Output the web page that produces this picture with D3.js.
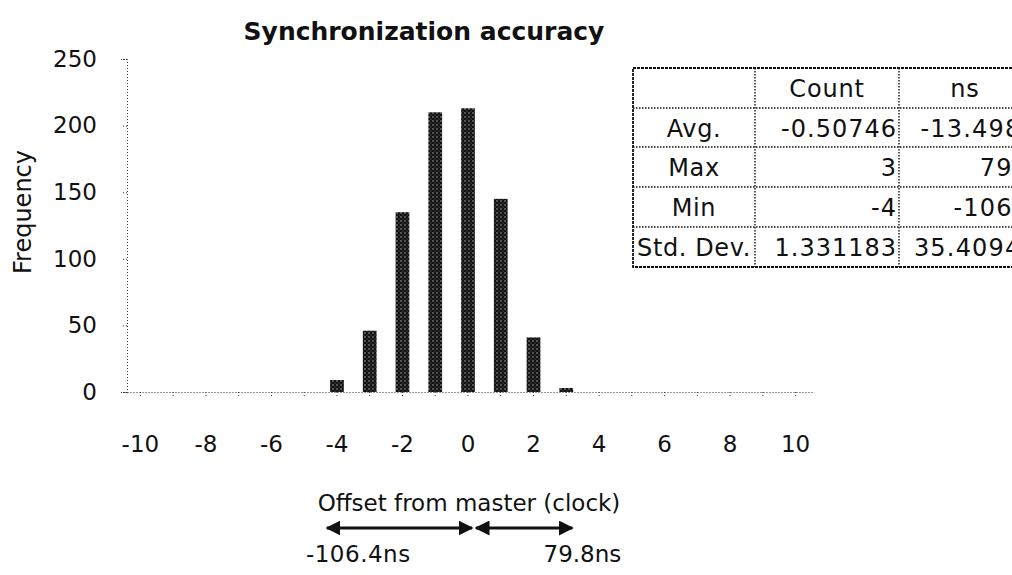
<!DOCTYPE html>
<html>
<head>
<meta charset="utf-8">
<script src="https://cdn.jsdelivr.net/npm/d3@7"></script>
<style>
  body { margin: 0; background: #fff; }
  text { font-family: "DejaVu Sans", Verdana, sans-serif; fill: #111; }
</style>
</head>
<body>
<div id="chart"></div>
<script>
// histogram data (offset in clocks -> frequency)
let offsets = d3.range(-10, 11);
let freqs = [0, 0, 0, 0, 0, 0, 9, 46, 135, 210, 213, 145, 41, 3, 0, 0, 0, 0, 0, 0, 0];
let xTicks = [-10, -8, -6, -4, -2, 0, 2, 4, 6, 8, 10];
let yTicks = [0, 50, 100, 150, 200, 250];

// stats table
let statCols = ["", "Count", "ns"];
let statRows = ["Avg.", "Max", "Min", "Std. Dev."];
let statCount = ["-0.50746", "3", "-4", "1.331183"];
let statNs = ["-13.4984", "79.8", "-106.4", "35.40947"];

// range annotation
let rangeClock = [-4, 3];
let rangeNs = ["-106.4ns", "79.8ns"];

let width = 1012;
let height = 575;

let svg = d3.select("#chart")
  .append("svg")
  .attr("width", width)
  .attr("height", height);

// stipple pattern for the bars
let defs = svg.append("defs");
let pat = defs.append("pattern")
  .attr("id", "stip")
  .attr("width", 4)
  .attr("height", 4)
  .attr("patternUnits", "userSpaceOnUse");
pat.append("rect").attr("width", 4).attr("height", 4).attr("fill", "#111");
pat.append("circle").attr("cx", 1).attr("cy", 1).attr("r", 0.7).attr("fill", "#ccc");
pat.append("circle").attr("cx", 3).attr("cy", 3).attr("r", 0.5).attr("fill", "#888");

// scales
let x = d3.scaleBand()
  .domain(offsets)
  .range([124, 812])
  .paddingInner(0.58)
  .paddingOuter(0.29);
let xc = v => x(v) + x.bandwidth() / 2;

let y = d3.scaleLinear()
  .domain([0, 250])
  .range([392, 59]);

// y axis
let yAxis = svg.append("g")
  .attr("transform", "translate(127,0)")
  .call(d3.axisLeft(y).tickValues(yTicks).tickSize(6).tickPadding(24));
yAxis.selectAll("path, line").attr("stroke", "#333").attr("stroke-dasharray", "1,2");
yAxis.selectAll("text").attr("font-size", 23);

// x axis
let xAxis = svg.append("g")
  .attr("transform", "translate(0,392)")
  .call(d3.axisBottom(x).tickSize(6).tickPadding(38).tickSizeOuter(0));
xAxis.select(".domain").attr("stroke", "#333").attr("stroke-dasharray", "1,2");
xAxis.selectAll("line").attr("stroke", "#333").attr("stroke-dasharray", "1,2");
xAxis.selectAll("text")
  .attr("font-size", 23)
  .text(d => xTicks.includes(d) ? String(d) : "");

// bars
svg.selectAll(".bar")
  .data(offsets.map((o, i) => ({ o: o, f: freqs[i] })))
  .enter()
  .append("rect")
  .attr("class", "bar")
  .attr("x", d => x(d.o))
  .attr("y", d => y(d.f))
  .attr("width", x.bandwidth())
  .attr("height", d => y(0) - y(d.f))
  .attr("fill", "url(#stip)");

// title
svg.append("text")
  .attr("x", 424)
  .attr("y", 40)
  .attr("text-anchor", "middle")
  .attr("font-size", 25)
  .attr("font-weight", "bold")
  .text("Synchronization accuracy");

// y label
svg.append("text")
  .attr("transform", "translate(31,212) rotate(-90)")
  .attr("text-anchor", "middle")
  .attr("font-size", 24)
  .text("Frequency");

// x label
svg.append("text")
  .attr("x", 469)
  .attr("y", 511)
  .attr("text-anchor", "middle")
  .attr("font-size", 23)
  .text("Offset from master (clock)");

// range arrows
defs.append("marker")
  .attr("id", "ah")
  .attr("viewBox", "0 0 10 10")
  .attr("refX", 9)
  .attr("refY", 5)
  .attr("markerWidth", 5)
  .attr("markerHeight", 5)
  .attr("orient", "auto-start-reverse")
  .append("path")
  .attr("d", "M0,0 L10,5 L0,10 z")
  .attr("fill", "#111");

let arrowY = 528;
svg.append("line")
  .attr("x1", xc(rangeClock[0]) - 10).attr("x2", xc(0) + 4)
  .attr("y1", arrowY).attr("y2", arrowY)
  .attr("stroke", "#111").attr("stroke-width", 3)
  .attr("marker-start", "url(#ah)").attr("marker-end", "url(#ah)");
svg.append("line")
  .attr("x1", xc(0) + 8).attr("x2", xc(rangeClock[1]) + 6)
  .attr("y1", arrowY).attr("y2", arrowY)
  .attr("stroke", "#111").attr("stroke-width", 3)
  .attr("marker-start", "url(#ah)").attr("marker-end", "url(#ah)");

svg.append("text")
  .attr("x", xc(rangeClock[0]) - 31)
  .attr("y", 562)
  .attr("font-size", 23)
  .attr("letter-spacing", 0.5)
  .text(rangeNs[0]);
svg.append("text")
  .attr("x", xc(rangeClock[1]) + 55)
  .attr("y", 562)
  .attr("text-anchor", "end")
  .attr("font-size", 23)
  .text(rangeNs[1]);

// stats table (right column runs past the picture edge, as in the source)
let colX = [633, 755, 899, 1040];
let rowY = [68, 108, 147, 187, 227, 267];
let tbl = svg.append("g");

tbl.append("rect")
  .attr("x", colX[0]).attr("y", rowY[0])
  .attr("width", colX[3] - colX[0]).attr("height", rowY[5] - rowY[0])
  .attr("fill", "#fff").attr("stroke", "#111").attr("stroke-width", 1.8)
  .attr("stroke-dasharray", "3,1");

rowY.slice(1, 5).forEach(ry => {
  tbl.append("line")
    .attr("x1", colX[0]).attr("x2", colX[3])
    .attr("y1", ry).attr("y2", ry)
    .attr("stroke", "#111").attr("stroke-width", 1.4).attr("stroke-dasharray", "1.5,1.5");
});
colX.slice(1, 3).forEach(cx => {
  tbl.append("line")
    .attr("x1", cx).attr("x2", cx)
    .attr("y1", rowY[0]).attr("y2", rowY[5])
    .attr("stroke", "#111").attr("stroke-width", 1.4).attr("stroke-dasharray", "1.5,1.5");
});

// header
let headX = [(colX[0] + colX[1]) / 2, (colX[1] + colX[2]) / 2, 965];
statCols.forEach((c, i) => {
  tbl.append("text")
    .attr("x", headX[i])
    .attr("y", (rowY[0] + rowY[1]) / 2 + 9)
    .attr("text-anchor", "middle")
    .attr("font-size", 24)
    .attr("letter-spacing", 0.8)
    .text(c);
});

statRows.forEach((r, i) => {
  let ty = (rowY[i + 1] + rowY[i + 2]) / 2 + 9;
  tbl.append("text")
    .attr("x", (colX[0] + colX[1]) / 2).attr("y", ty)
    .attr("text-anchor", "middle").attr("font-size", 24)
    .attr("letter-spacing", 0.6)
    .text(r);
  tbl.append("text")
    .attr("x", colX[2] - 2).attr("y", ty)
    .attr("text-anchor", "end").attr("font-size", 24)
    .attr("letter-spacing", 1.0)
    .text(statCount[i]);
  tbl.append("text")
    .attr("x", colX[3] - 2).attr("y", ty)
    .attr("text-anchor", "end").attr("font-size", 24)
    .attr("letter-spacing", 1.2)
    .text(statNs[i]);
});
</script>
</body>
</html>
